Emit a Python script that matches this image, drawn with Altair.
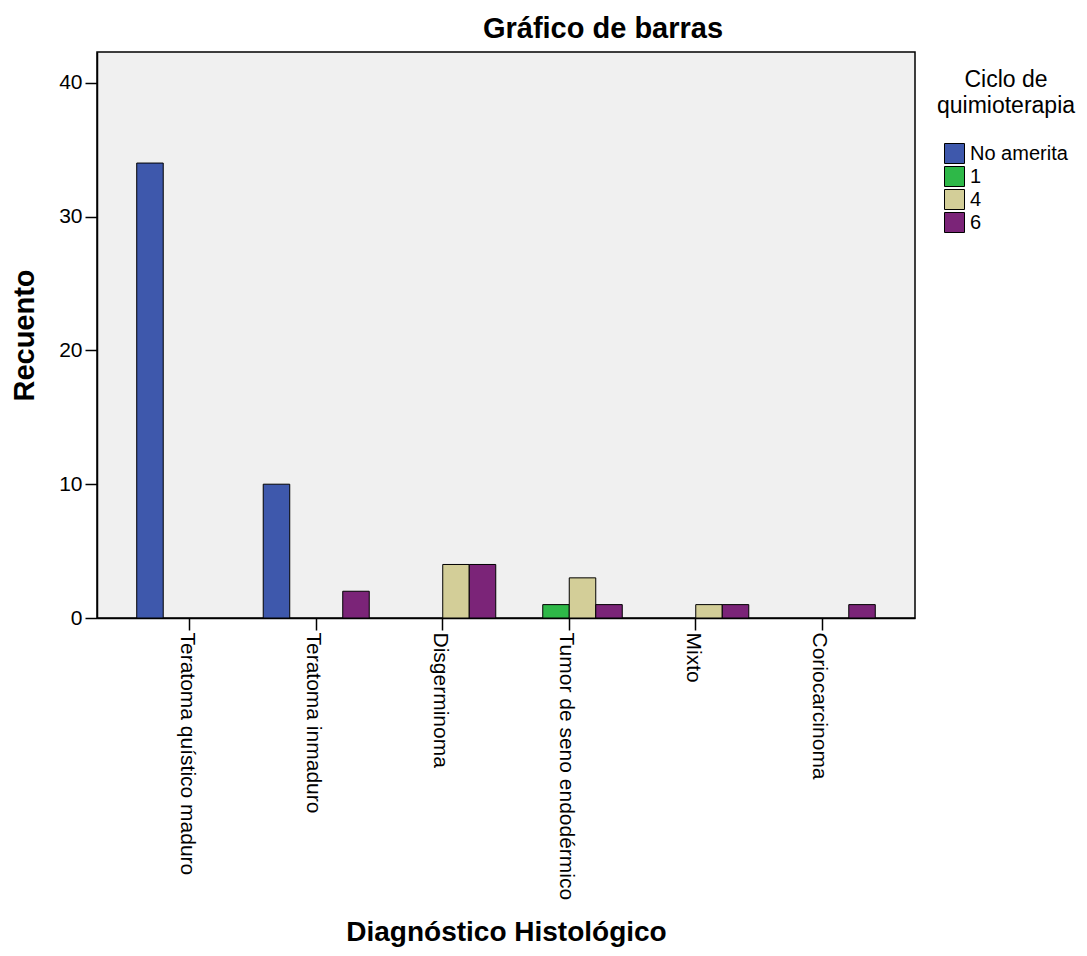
import altair as alt
import pandas as pd

diagnosticos = ["Teratoma quístico maduro", "Teratoma inmaduro", "Disgerminoma",
                "Tumor de seno endodérmico", "Mixto", "Coriocarcinoma"]
ciclos = ["No amerita", "1", "4", "6"]
no_amerita = [34, 10, 0, 0, 0, 0]
ciclo_1 = [0, 0, 0, 1, 0, 0]
ciclo_4 = [0, 0, 4, 3, 1, 0]
ciclo_6 = [0, 2, 4, 1, 1, 1]
colores = ["#3E58AC", "#2EB848", "#D3CE98", "#7B2478"]

series = [no_amerita, ciclo_1, ciclo_4, ciclo_6]
rows = []
for c, vals in zip(ciclos, series):
    for d, v in zip(diagnosticos, vals):
        if v > 0:
            rows.append({"diag": d, "ciclo": c, "n": v})
df = pd.DataFrame(rows)

FONT = "Liberation Sans"

chart = alt.Chart(df).mark_bar(stroke="black", strokeWidth=1).encode(
    x=alt.X("diag:N", sort=diagnosticos,
            scale=alt.Scale(domain=diagnosticos, paddingInner=0.162, paddingOuter=0.314),
            axis=alt.Axis(title="Diagnóstico Histológico", labelAngle=90, labelFontSize=21,
                          labelPadding=2, tickSize=12, labelOffset=-3,
                          titleFontSize=28, titleFontWeight="bold",
                          titleY=322, titleBaseline="alphabetic", labelLimit=400)),
    xOffset=alt.XOffset("ciclo:N", sort=ciclos,
                        scale=alt.Scale(domain=ciclos, paddingInner=0, paddingOuter=0)),
    y=alt.Y("n:Q", scale=alt.Scale(domain=[0, 42.3], nice=False, zero=True),
            axis=alt.Axis(title="Recuento", values=[0, 10, 20, 30, 40], grid=False,
                          labelFontSize=21, tickSize=12, labelPadding=3,
                          titleFontSize=29, titleFontWeight="bold",
                          titleX=-64, titleY=283, titleAngle=-90,
                          titleBaseline="alphabetic", titleAlign="center")),
    color=alt.Color("ciclo:N", sort=ciclos,
                    scale=alt.Scale(domain=ciclos, range=colores),
                    legend=alt.Legend(title=["Ciclo de", "quimioterapia"], orient="none",
                                      legendX=840, legendY=17, padding=0,
                                      titleFontSize=23, titleFontWeight="normal",
                                      titleAlign="center", titleAnchor="middle",
                                      titleLineHeight=26, titlePadding=25,
                                      symbolType="square", symbolSize=400,
                                      symbolStrokeColor="black", symbolStrokeWidth=1,
                                      labelFontSize=20, labelOffset=5, rowPadding=-2)),
).properties(
    width=818, height=566,
    autosize="none",
    padding={"left": 89, "top": 44, "right": 164, "bottom": 330},
    title=alt.TitleParams("Gráfico de barras", fontSize=29, fontWeight="bold", font=FONT,
                          anchor="middle", frame="group", dx=97, offset=8, color="black"),
).configure_view(
    fill="#F0F0F0", stroke="black", strokeWidth=1.5
).configure_axis(
    labelFont=FONT, titleFont=FONT, labelColor="black", titleColor="black",
    domainColor="black", tickColor="black", domainWidth=1.5, tickWidth=1.5
).configure_legend(
    labelFont=FONT, titleFont=FONT, labelColor="black", titleColor="black"
)

chart.save("out.html", embed_options={"renderer": "svg", "actions": False})
